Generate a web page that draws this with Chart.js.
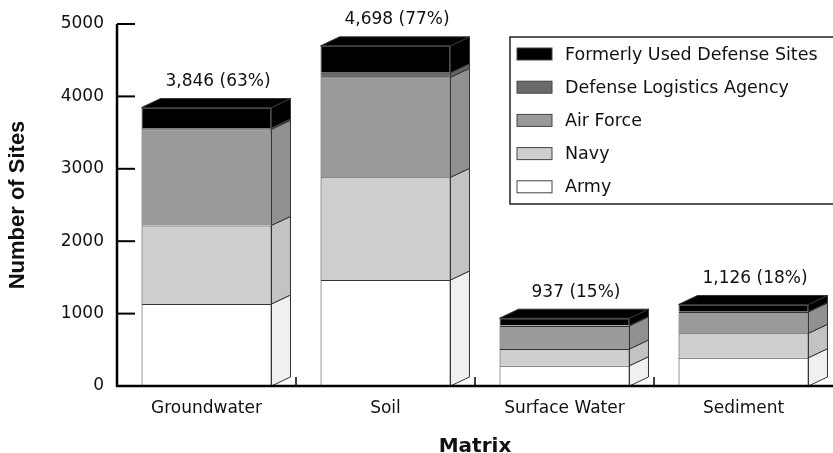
<!DOCTYPE html>
<html>
<head>
<meta charset="utf-8">
<script src="https://cdn.jsdelivr.net/npm/chart.js@4"></script>
<style>
  html, body { margin: 0; padding: 0; background: #fff; }
  #wrap { width: 833px; height: 453px; }
</style>
</head>
<body>
<div id="wrap"><canvas id="sites-chart" width="833" height="453"></canvas></div>
<script>
// categories and series (number of sites)
const matrices = ["Groundwater", "Soil", "Surface Water", "Sediment"];
const army = [1133, 1464, 280, 391];
const navy = [1085, 1418, 231, 337];
const airForce = [1327, 1382, 318, 294];
const dla = [20, 64, 5, 4];
const fuds = [281, 370, 103, 100];
const percents = [63, 77, 15, 18];
const yTicks = [0, 1000, 2000, 3000, 4000, 5000];

const FONT = "'DejaVu Sans', Verdana, sans-serif";
const BOLD = "'Liberation Sans', Arial, Helvetica, sans-serif";
const DX = 19, DY = 9; // depth of the 3d faces

function shade(hex, f) {
  const n = parseInt(hex.slice(1), 16);
  const r = Math.round(((n >> 16) & 255) * f);
  const g = Math.round(((n >> 8) & 255) * f);
  const b = Math.round((n & 255) * f);
  return "rgb(" + r + "," + g + "," + b + ")";
}

const bar3d = {
  id: "bar3d",
  afterDatasetsDraw(chart) {
    const ctx = chart.ctx;
    const sets = chart.data.datasets;
    ctx.save();
    ctx.lineWidth = 1;
    ctx.strokeStyle = "#333";
    sets.forEach((ds, i) => {
      const meta = chart.getDatasetMeta(i);
      meta.data.forEach((bar) => {
        const p = bar.getProps(["x", "y", "base", "width"], true);
        const right = p.x + p.width / 2;
        const top = Math.min(p.y, p.base), bottom = Math.max(p.y, p.base);
        if (bottom - top < 0.5) return;
        ctx.fillStyle = shade(ds.backgroundColor, 0.94);
        ctx.beginPath();
        ctx.moveTo(right, top);
        ctx.lineTo(right + DX, top - DY);
        ctx.lineTo(right + DX, bottom - DY);
        ctx.lineTo(right, bottom);
        ctx.closePath();
        ctx.fill();
        ctx.stroke();
      });
    });
    // top face of the topmost segment + total labels
    const last = sets.length - 1;
    const meta = chart.getDatasetMeta(last);
    meta.data.forEach((bar, j) => {
      const p = bar.getProps(["x", "y", "width"], true);
      const left = p.x - p.width / 2, right = p.x + p.width / 2;
      ctx.fillStyle = sets[last].backgroundColor;
      ctx.beginPath();
      ctx.moveTo(left, p.y);
      ctx.lineTo(left + DX, p.y - DY);
      ctx.lineTo(right + DX, p.y - DY);
      ctx.lineTo(right, p.y);
      ctx.closePath();
      ctx.fill();
      ctx.stroke();
      let total = 0;
      sets.forEach((ds) => { total += ds.data[j]; });
      ctx.fillStyle = "#111";
      ctx.font = "17px " + FONT;
      ctx.textAlign = "center";
      ctx.textBaseline = "middle";
      ctx.fillText(total.toLocaleString("en-US") + " (" + percents[j] + "%)", p.x + DX / 2 + 2, p.y - DY - 17);
    });
    ctx.restore();
  },
  afterDraw(chart) {
    const ctx = chart.ctx;
    const a = chart.chartArea;
    const ys = chart.scales.y, xs = chart.scales.x;
    ctx.save();
    ctx.strokeStyle = "#000";
    ctx.lineWidth = 2.5;
    ctx.beginPath();
    ctx.moveTo(a.left, ys.getPixelForValue(5000));
    ctx.lineTo(a.left, ys.getPixelForValue(0));
    ctx.lineTo(a.right, ys.getPixelForValue(0));
    ctx.stroke();
    ctx.lineWidth = 2;
    yTicks.forEach((v) => {
      const y = ys.getPixelForValue(v);
      ctx.beginPath();
      ctx.moveTo(a.left, y);
      ctx.lineTo(a.left + 18, y);
      ctx.stroke();
    });
    const base = ys.getPixelForValue(0);
    ctx.lineWidth = 1.5;
    for (let k = 1; k < matrices.length; k++) {
      const x = (xs.getPixelForValue(k - 1) + xs.getPixelForValue(k)) / 2;
      ctx.beginPath();
      ctx.moveTo(x, base);
      ctx.lineTo(x, base - 9);
      ctx.stroke();
    }
    // legend box
    const lx = 510, ly = 37, lw = 330, lh = 167;
    ctx.fillStyle = "#fff";
    ctx.fillRect(lx, ly, lw, lh);
    ctx.lineWidth = 1.5;
    ctx.strokeStyle = "#222";
    ctx.strokeRect(lx, ly, lw, lh);
    ctx.font = "17.5px " + FONT;
    ctx.textAlign = "left";
    ctx.textBaseline = "middle";
    const sets = chart.data.datasets;
    for (let n = 0; n < sets.length; n++) {
      const ds = sets[sets.length - 1 - n];
      const cy = ly + 17 + n * 33.2;
      ctx.fillStyle = ds.backgroundColor;
      ctx.fillRect(517, cy - 6, 35, 12);
      ctx.lineWidth = 1;
      ctx.strokeStyle = "#444";
      ctx.strokeRect(517, cy - 6, 35, 12);
      ctx.fillStyle = "#111";
      ctx.fillText(ds.label, 565, cy + 1);
    }
    ctx.restore();
  }
};

const common = { borderColor: "#333", borderWidth: 1, barPercentage: 0.726, categoryPercentage: 1 };

new Chart(document.getElementById("sites-chart"), {
  type: "bar",
  data: {
    labels: matrices,
    datasets: [
      Object.assign({ label: "Army", data: army, backgroundColor: "#ffffff" }, common),
      Object.assign({ label: "Navy", data: navy, backgroundColor: "#cfcfcf" }, common),
      Object.assign({ label: "Air Force", data: airForce, backgroundColor: "#9a9a9a" }, common),
      Object.assign({ label: "Defense Logistics Agency", data: dla, backgroundColor: "#6a6a6a" }, common),
      Object.assign({ label: "Formerly Used Defense Sites", data: fuds, backgroundColor: "#000000" }, common),
    ],
  },
  options: {
    responsive: false,
    animation: false,
    layout: { padding: { top: 24, right: 0, bottom: 0, left: 0 } },
    plugins: {
      legend: { display: false },
      tooltip: { enabled: false },
    },
    scales: {
      x: {
        stacked: true,
        grid: { display: false },
        border: { display: false },
        ticks: { color: "#111", font: { family: FONT, size: 17 }, padding: 4 },
        title: { display: true, text: "Matrix", color: "#111", font: { family: FONT, size: 20, weight: "bold" }, padding: { top: 14, bottom: -6 } },
        afterFit: (s) => { s.height = 453 - 386; },
      },
      y: {
        stacked: true,
        min: 0,
        max: 5000,
        afterBuildTicks: (s) => { s.ticks = yTicks.map((v) => ({ value: v })); },
        grid: { display: false },
        border: { display: false },
        ticks: { color: "#111", font: { family: FONT, size: 17 }, padding: 5, callback: (v) => String(v) },
        title: { display: true, text: "Number of Sites", color: "#111", font: { family: BOLD, size: 22, weight: "bold" }, padding: { top: 4.5, bottom: 4 } },
        afterFit: (s) => { s.width = 117; },
      },
    },
  },
  plugins: [bar3d],
});
</script>
</body>
</html>
